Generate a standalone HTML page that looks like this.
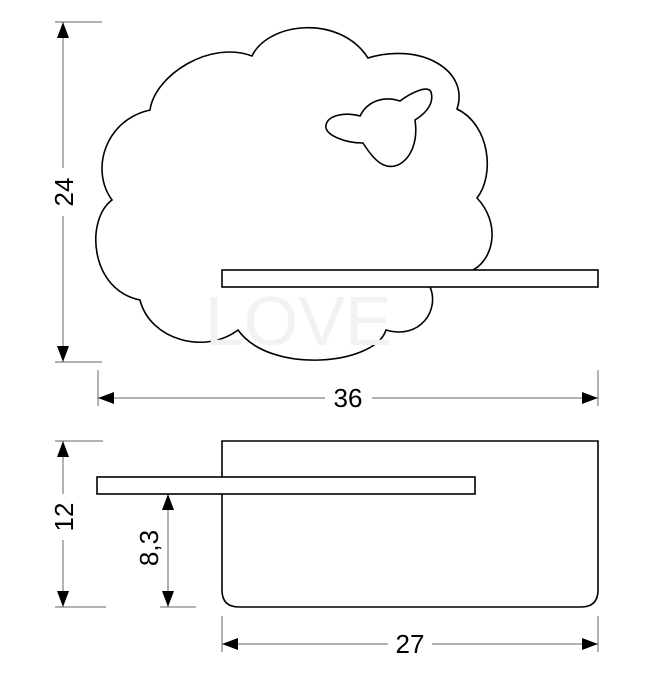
<!DOCTYPE html>
<html><head><meta charset="utf-8"><style>
html,body{margin:0;padding:0;background:#fff;}
svg{display:block;}
text{font-family:"Liberation Sans",Arial,sans-serif;font-size:26px;fill:#000;}
</style></head><body>
<svg width="650" height="677" viewBox="0 0 650 677">
<defs>
<marker id="a" viewBox="0 0 16 12" refX="16" refY="6" markerWidth="16" markerHeight="12" markerUnits="userSpaceOnUse" orient="auto-start-reverse"><path d="M0,0 L16,6 L0,12 Z" fill="#000"/></marker>
</defs>
<g stroke="#666" stroke-width="1" fill="none">
<line x1="55" y1="22" x2="102" y2="22"/>
<line x1="55" y1="362" x2="102" y2="362"/>
<line x1="63" y1="22" x2="63" y2="168" marker-start="url(#a)"/>
<line x1="63" y1="216" x2="63" y2="362" marker-end="url(#a)"/>
<line x1="98" y1="370" x2="98" y2="406"/>
<line x1="598" y1="370" x2="598" y2="406"/>
<line x1="98" y1="398" x2="325" y2="398" marker-start="url(#a)"/>
<line x1="372" y1="398" x2="598" y2="398" marker-end="url(#a)"/>
<line x1="55" y1="441" x2="103" y2="441"/>
<line x1="55" y1="607" x2="106" y2="607"/>
<line x1="63" y1="441" x2="63" y2="494" marker-start="url(#a)"/>
<line x1="63" y1="540" x2="63" y2="607" marker-end="url(#a)"/>
<line x1="160" y1="607" x2="196" y2="607"/>
<line x1="168" y1="494" x2="168" y2="607" marker-start="url(#a)" marker-end="url(#a)"/>
<line x1="222" y1="616" x2="222" y2="652"/>
<line x1="598" y1="616" x2="598" y2="652"/>
<line x1="222" y1="644" x2="388" y2="644" marker-start="url(#a)"/>
<line x1="432" y1="644" x2="598" y2="644" marker-end="url(#a)"/>
</g>
<text x="348" y="407" text-anchor="middle">36</text>
<text x="410" y="653" text-anchor="middle">27</text>
<text transform="translate(73,192) rotate(-90)" text-anchor="middle">24</text>
<text transform="translate(73,517) rotate(-90)" text-anchor="middle">12</text>
<text transform="translate(158,548) rotate(-90)" text-anchor="middle">8,3</text>

<path d="M252,56 C268,22 340,14 368,58
C420,42 470,70 457,109
C490,125 495,175 477,198
C500,222 495,258 473,270
L430,287
C440,310 420,340 386,330
C375,365 270,375 238,330
C205,355 150,340 140,300
C90,290 85,220 112,200
C90,170 105,120 150,110
C155,75 210,40 252,56 Z" fill="#fff" stroke="#000" stroke-width="1.6"/>
<path d="M326,125 C328,115 345,112 360,116 C368,100 385,96 400,101 C412,92 428,85 431,92 C434,102 428,112 415,120 C418,140 412,158 398,165 C385,170 375,162 363,143 C345,143 324,135 326,125 Z" fill="#fff" stroke="#000" stroke-width="1.6"/>
<rect x="222" y="270" width="376" height="17" fill="#fff" stroke="#000" stroke-width="1.6"/>

<text x="205" y="345" style="font-size:70px;fill:#f2f2f2">LOVE</text>

<path d="M222,441 L598,441 L598,590 Q598,607 581,607 L239,607 Q222,607 222,590 Z" fill="#fff" stroke="#000" stroke-width="1.6"/>
<rect x="97" y="477" width="378" height="17" fill="#fff" stroke="#000" stroke-width="1.6"/>
</svg>
</body></html>
